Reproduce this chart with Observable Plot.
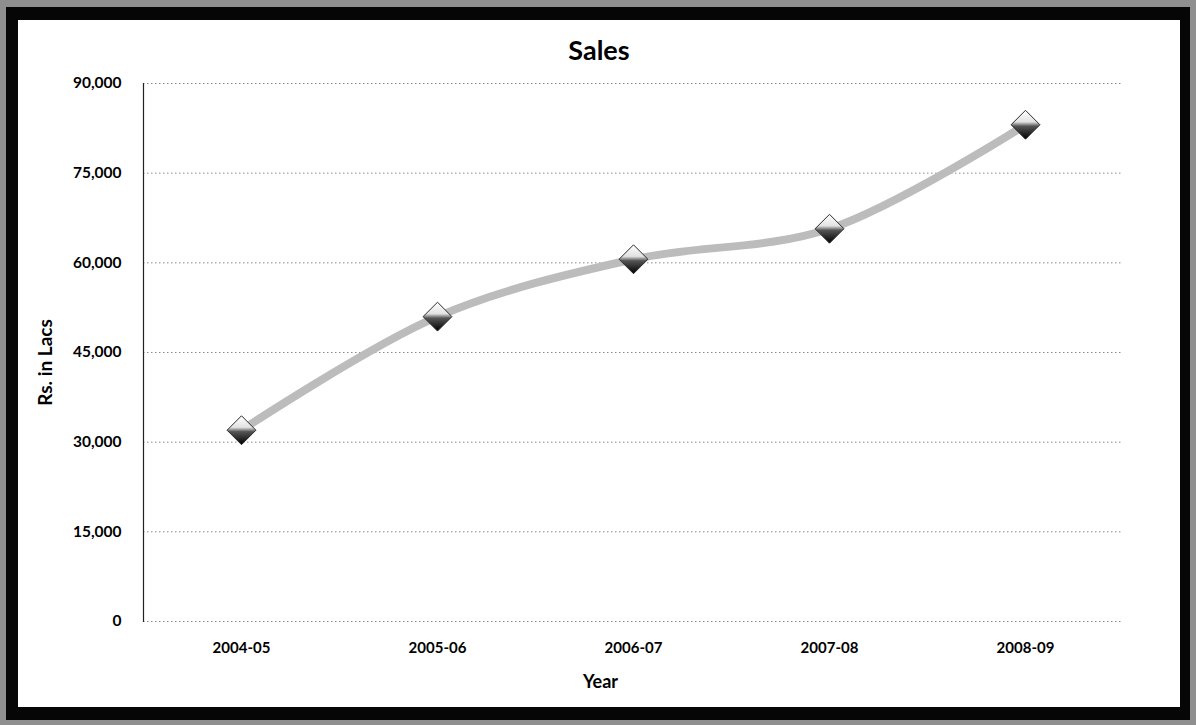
<!DOCTYPE html>
<html><head><meta charset="utf-8">
<script src="https://cdn.jsdelivr.net/npm/d3@7"></script>
<script src="https://cdn.jsdelivr.net/npm/@observablehq/plot@0.6"></script>
<style>
html,body{margin:0;padding:0;background:#8f8f8f;}
#frame{position:relative;width:1196px;height:725px;overflow:hidden;background:#8f8f8f;}
#black{position:absolute;left:6px;top:7px;width:1184px;height:713px;background:#060606;}
#white{position:absolute;left:18px;top:20px;width:1162px;height:687px;background:#fff;}
#title{position:absolute;left:18px;width:1162px;top:33px;text-align:center;font:700 27px Lato,"Open Sans",sans-serif;color:#000;margin:0;}
#chart{position:absolute;left:0;top:0;}
</style>
</head><body>
<div id="frame">
  <div id="black"></div>
  <div id="white"></div>
  <div id="chart"></div>
  <h2 id="title">Sales</h2>
</div>
<script>
const years = ["2004-05", "2005-06", "2006-07", "2007-08", "2008-09"];
const sales = [32000, 51000, 60600, 65700, 83100];
const yTicks = [0, 15000, 30000, 45000, 60000, 75000, 90000];
const xTitle = "Year";
const yTitle = "Rs. in Lacs";

const data = years.map((y, i) => ({year: y, value: sales[i]}));

const chart = Plot.plot({
  width: 1196,
  height: 725,
  marginLeft: 143,
  marginRight: 73,
  marginTop: 83,
  marginBottom: 104,
  style: {background: "transparent", fontFamily: "Lato, 'Open Sans', sans-serif", color: "#000"},
  x: {type: "point", domain: years, padding: 0.5},
  y: {domain: [0, 90000]},
  marks: [
    Plot.gridY(yTicks, {stroke: "#8a8a8a", strokeOpacity: 1, strokeWidth: 1, strokeDasharray: "1.5,2.5"}),
    Plot.frame({anchor: "left", stroke: "#222", strokeWidth: 1.2}),
    Plot.axisY(yTicks, {
      tickSize: 0, tickPadding: 22, tickFormat: d3.format(","),
      fontSize: 15.5, fontWeight: "bold", label: null
    }),
    Plot.axisX({
      tickSize: 0, tickPadding: 21, fontSize: 15, fontWeight: "bold", label: null
    }),
    Plot.text([xTitle], {frameAnchor: "bottom", dx: -33, dy: 66, fontSize: 18, fontWeight: "bold"}),
    Plot.text([yTitle], {frameAnchor: "left", textAnchor: "middle", rotate: -90, dx: -98, dy: 10, fontSize: 19, fontWeight: "bold"}),
    Plot.line(data, {x: "year", y: "value", stroke: "#bcbcbc", strokeWidth: 8, curve: "catmull-rom"}),
    Plot.dot(data, {x: "year", y: "value", symbol: "diamond2", r: 13, fill: "url(#dg)", stroke: "#2a2a2a", strokeWidth: 1})
  ]
});

const svg = d3.select(chart);
const defs = svg.insert("defs", ":first-child");
const g = defs.append("linearGradient").attr("id", "dg").attr("x1", 0).attr("y1", 0).attr("x2", 0).attr("y2", 1);
g.append("stop").attr("offset", "0%").attr("stop-color", "#ffffff");
g.append("stop").attr("offset", "40%").attr("stop-color", "#e2e2e2");
g.append("stop").attr("offset", "55%").attr("stop-color", "#555");
g.append("stop").attr("offset", "100%").attr("stop-color", "#000");

document.getElementById("chart").appendChild(chart);
</script>
</body></html>
